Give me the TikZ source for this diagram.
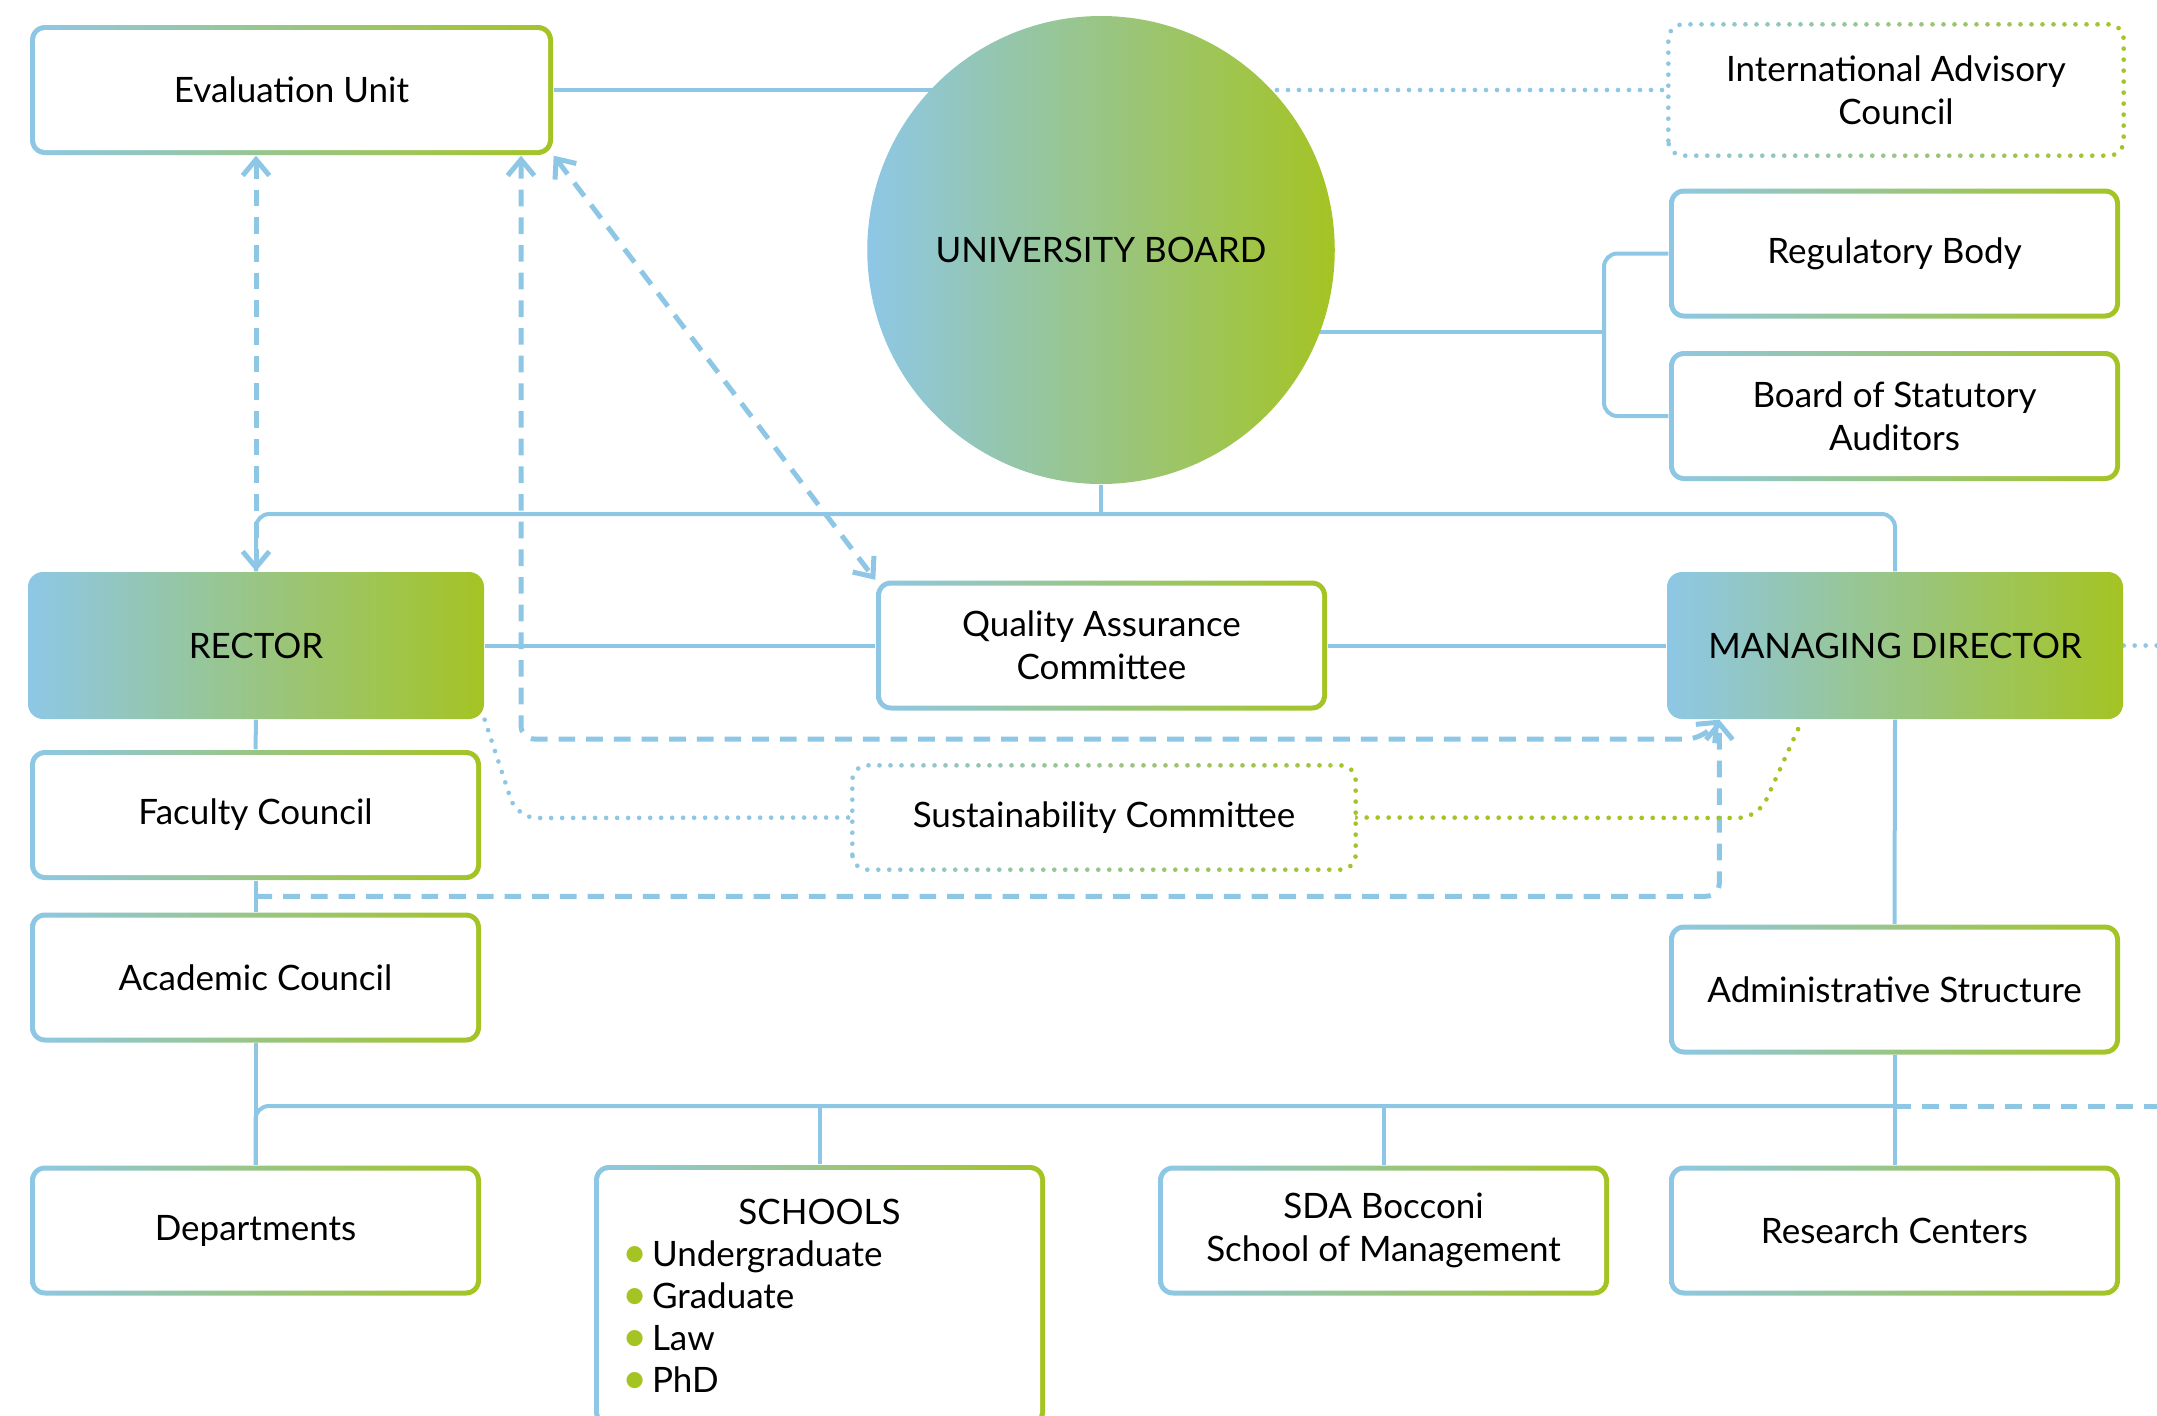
\documentclass[tikz,border=0pt]{standalone}
\usepackage{fontspec}
\setmainfont{Lato}
\usetikzlibrary{arrows.meta,backgrounds,calc,positioning,shapes.geometric}

\definecolor{cblue}{RGB}{142,199,230}
\definecolor{cgreen}{RGB}{164,196,35}

\tikzset{
  orgtext/.style={font=\fontsize{10.5}{12.9}\selectfont, align=center, text=black},
  gbox/.style={orgtext, rectangle, rounded corners=4.5pt, inner sep=0pt,
    minimum width=135.3pt, minimum height=39pt, left color=cblue, right color=cgreen,
    path picture={\fill[white, rounded corners=3pt]
      ([shift={(1.5pt,1.5pt)}]path picture bounding box.south west) rectangle
      ([shift={(-1.5pt,-1.5pt)}]path picture bounding box.north east);}},
  headbox/.style={orgtext, rectangle, rounded corners=4.5pt, minimum width=136.8pt,
    minimum height=44.1pt, left color=cblue, right color=cgreen},
  dotbox/.style={orgtext, rectangle, rounded corners=4.5pt, fill=white,
    minimum width=136.2pt, minimum height=39pt},
  conn/.style={cblue, line width=1.2pt},
  dashline/.style={cblue, line width=1.5pt, dash pattern=on 5pt off 3.3pt},
  dotline/.style={line width=1.4pt, line cap=round, dash pattern=on 0pt off 3.3pt}
}

% dotted frame shaded from blue to green: node, left x, strip width
\newcommand{\dotframe}[3]{%
  \foreach \i in {0,...,15} {
    \pgfmathtruncatemacro\pct{(\i+0.5)*100/16}
    \begin{scope}
      \clip ({#2+\i*#3},0) rectangle ++(#3,1415);
      \draw[dotline, cgreen!\pct!cblue, rounded corners=4.5pt] (#1.south west) rectangle (#1.north east);
    \end{scope}
  }}

\newcommand{\bul}{\makebox[9pt][l]{\raisebox{-0.4pt}{\textcolor{cgreen}{\fontsize{13}{13}\selectfont\textbullet}}}}

\begin{document}
\begin{tikzpicture}[x=0.3pt, y=-0.3pt, >={Straight Barb[length=4.8pt,width=8pt]}]
\useasboundingbox (0,0) rectangle (2157,1415);
\clip (0,0) rectangle (2157,1415);

% top
\node[gbox, minimum width=156.9pt] (eu) at (291.5,90) {Evaluation Unit};
\node[orgtext, ellipse, minimum width=136.5pt, minimum height=140.4pt, inner sep=0pt, left color=cblue, right color=cgreen] (board) at (1101,250) {UNIVERSITY BOARD};
\node[dotbox] (iac) at (1896,90) {International Advisory\\Council};
\node[gbox] (rb) at (1894.5,253.5) {Regulatory Body};
\node[gbox] (bsa) at (1894.5,416) {Board of Statutory\\Auditors};

% middle
\node[headbox] (rector) at (256,645.5) {RECTOR};
\node[gbox] (qac) at (1101.5,645.5) {Quality Assurance\\Committee};
\node[headbox] (md) at (1895,645.5) {MANAGING DIRECTOR};
\node[gbox] (fc) at (255.5,815) {Faculty Council};
\node[gbox] (ac) at (255.5,977.5) {Academic Council};
\node[dotbox, minimum width=150.6pt, minimum height=30.9pt] (sc) at (1104,817.5) {Sustainability Committee};
\node[gbox] (admin) at (1894.5,989.5) {Administrative Structure};

% bottom
\node[gbox] (dep) at (255.5,1230.5) {Departments};
\node[gbox, minimum height=78.6pt, text width=118.5pt, align=left,
  font=\fontsize{10.5}{12.6}\selectfont] (schools) at (819.5,1296)
  {\makebox[\linewidth]{SCHOOLS}\\ \bul Undergraduate\\ \bul Graduate\\ \bul Law\\ \bul PhD};
\node[gbox] (sda) at (1383.5,1230.5) {SDA Bocconi\\School of Management};
\node[gbox] (rc) at (1894.5,1230.5) {Research Centers};

\dotframe{iac}{1664}{29}
\dotframe{sc}{844}{32.5}

\coordinate (topbus) at (1101,514);
\coordinate (brk) at (1604,332);
\coordinate (bbus) at (1894.5,1106);
\coordinate (bbend) at (2157,1106);
\coordinate (evd) at (521,739);
\coordinate (evh) at (1700,739);
\coordinate (rsc) at (517,818);
\coordinate (scm) at (1758,818);
\coordinate (mdin) at ([xshift=15.9pt]md.south west);
\coordinate (mdin2) at ([xshift=40.8pt]md.south west);
\coordinate (fcac) at ($(fc.south)!.5!(ac.north)$);

\begin{scope}[on background layer]
\draw[conn] (eu.east) -- (eu.east -| board.center);
\draw[dotline, cblue] (iac.west -| board.center) -- (iac.west);
\draw[conn] (board.center |- brk) -- (brk);
\draw[conn, rounded corners=4pt] (rb.west) -| (brk) |- (bsa.west);
\draw[conn] (board.south) -- (topbus);
\draw[conn, rounded corners=4pt] (topbus) -| (rector.north);
\draw[conn, rounded corners=4pt] (topbus) -| (md.north);
\draw[conn] (rector.east) -- (qac.west);
\draw[conn] (qac.east) -- (md.west);
\draw[dotline, cblue] (md.east) -- (md.east -| bbend);
\draw[conn] (rector.south) -- (fc.north);
\draw[conn] (fc.south) -- (ac.north);
\draw[conn] (ac.south) -- (dep.north);
\draw[conn] (md.south) -- (admin.north);
\draw[conn] (admin.south) -- (rc.north);
\draw[conn, rounded corners=4pt] (dep.north) |- (bbus);
\draw[conn] (schools.north) -- (schools.north |- bbus);
\draw[conn] (sda.north) -- (sda.north |- bbus);
\draw[dashline] (bbus) -- (bbend);

\draw[dashline, <->] (eu.south -| rector.north) -- (rector.north);
\draw[dashline, <->] (eu.south east) -- (qac.north west);
\draw[dashline, <->, rounded corners=4pt] (eu.south -| evd) -- (evd) -- (evh) -- (mdin);
\draw[dashline, ->, rounded corners=4pt] (fcac) -| (mdin);
\draw[dotline, cblue, rounded corners=6pt] (rector.south east) -- (rsc) -- (sc.west);
\draw[dotline, cgreen, rounded corners=6pt] (sc.east) -- (scm) -- (mdin2);
\end{scope}

\end{tikzpicture}
\end{document}
